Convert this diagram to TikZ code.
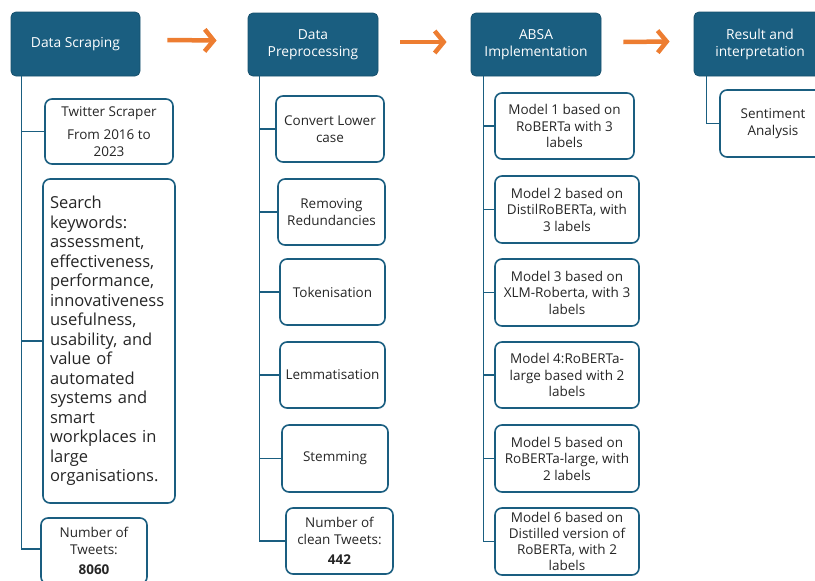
\documentclass[tikz,border=0pt]{standalone}
\usepackage{fontspec}
\setmainfont{Open Sans}
\usetikzlibrary{arrows.meta}
\definecolor{teal1}{HTML}{1A5E80}
\definecolor{orng}{HTML}{ED7D31}
\begin{document}
\begin{tikzpicture}[x=1pt,y=1pt,
 head/.style={fill=teal1, draw=teal1!85!black, line width=0.8pt, rounded corners=5pt, text=white, align=center, font=\fontsize{13.8}{17}\selectfont, inner sep=2pt},
 sub/.style={draw=teal1, line width=1.6pt, fill=white, rounded corners=7pt, align=center, text=black!85, font=\fontsize{13.5}{16.5}\selectfont, inner sep=1pt},
 conn/.style={draw=teal1, line width=1.6pt},
 arr/.style={draw=orng, line width=4.5pt, -{Straight Barb[length=9pt,width=22pt]}}
]
\useasboundingbox (0,0) rectangle (815,-581);
\clip (0,0) rectangle (815,-581);
% headers
\node[head, minimum width=129, minimum height=64] (h1) at (75.5,-44) {Data Scraping};
\node[head, minimum width=130, minimum height=63] (h2) at (313,-44.5) {Data\\Preprocessing};
\node[head, minimum width=130, minimum height=63] (h3) at (536,-44.5) {ABSA\\Implementation};
\node[head, minimum width=132, minimum height=64] (h4) at (760,-44) {Result and\\interpretation};
% arrows
\draw[arr] ([xshift=27pt,yshift=4pt]h1.east) -- ([xshift=-31pt,yshift=4pt]h2.west);
\draw[arr] ([xshift=22pt,yshift=2.5pt]h2.east) -- ([xshift=-24pt,yshift=2.5pt]h3.west);
\draw[arr] ([xshift=22pt,yshift=2.5pt]h3.east) -- ([xshift=-24pt,yshift=2.5pt]h4.west);
% column 1
\node[sub, minimum width=128, minimum height=65] (b11) at (109,-131.5) {Twitter Scraper\\[7pt]From 2016 to\\2023};
\node[sub, minimum width=132, minimum height=324, text width=118, align=left, font=\fontsize{16.5}{19.5}\selectfont] (b12) at (109,-341) {Search\\keywords:\\assessment,\\effectiveness,\\performance,\\innovativeness\\usefulness,\\usability, and\\value of\\automated\\systems and\\smart\\workplaces in\\large\\organisations.};
\node[sub, minimum width=106, minimum height=66] (b13) at (94,-551) {Number of\\Tweets:\\[4pt]\textbf{8060}};
\draw[conn] ([xshift=11pt]h1.south west) |- (b11.west);
\draw[conn] ([xshift=11pt]h1.south west) |- (b12.west);
\draw[conn] ([xshift=11pt]h1.south west) |- ([yshift=2pt]b13.west);
% column 2
\node[sub, minimum width=108, minimum height=66] (c1) at (330,-129) {Convert Lower\\case};
\node[sub, minimum width=107, minimum height=66] (c2) at (331.5,-212) {Removing\\Redundancies};
\node[sub, minimum width=105, minimum height=66] (c3) at (332.5,-292) {Tokenisation};
\node[sub, minimum width=105, minimum height=66] (c4) at (332.5,-375) {Lemmatisation};
\node[sub, minimum width=106, minimum height=67] (c5) at (335,-458.5) {Stemming};
\node[sub, minimum width=107, minimum height=66] (c6) at (339.5,-541) {Number of\\clean Tweets:\\[4pt]\textbf{442}};
\foreach \n in {c1,c2,c3,c4,c5,c6}
  \draw[conn] ([xshift=12pt]h2.south west) |- (\n.west);
% column 3
\node[sub, minimum width=139, minimum height=66] (m1) at (564.5,-126) {Model 1 based on\\RoBERTa with 3\\labels};
\node[sub, minimum width=144, minimum height=67] (m2) at (567,-209.5) {Model 2 based on\\DistilRoBERTa, with\\3 labels};
\node[sub, minimum width=144, minimum height=67] (m3) at (567,-292.5) {Model 3 based on\\XLM-Roberta, with 3\\labels};
\node[sub, minimum width=144, minimum height=66] (m4) at (567,-375) {Model 4:RoBERTa-\\large based with 2\\labels};
\node[sub, minimum width=144, minimum height=67] (m5) at (567,-458.5) {Model 5 based on\\RoBERTa-large, with\\2 labels};
\node[sub, minimum width=144, minimum height=67, font=\fontsize{13.5}{16}\selectfont] (m6) at (567,-541.5) {Model 6 based on\\Distilled version of\\RoBERTa, with 2\\labels};
\foreach \n in {m1,m2,m3,m4,m5,m6}
  \draw[conn] ([xshift=13pt]h3.south west) |- (\n.west);
% column 4
\node[sub, minimum width=106, minimum height=67] (s1) at (773,-123.5) {Sentiment\\Analysis};
\draw[conn] ([xshift=13pt]h4.south west) |- (s1.west);
\end{tikzpicture}
\end{document}
